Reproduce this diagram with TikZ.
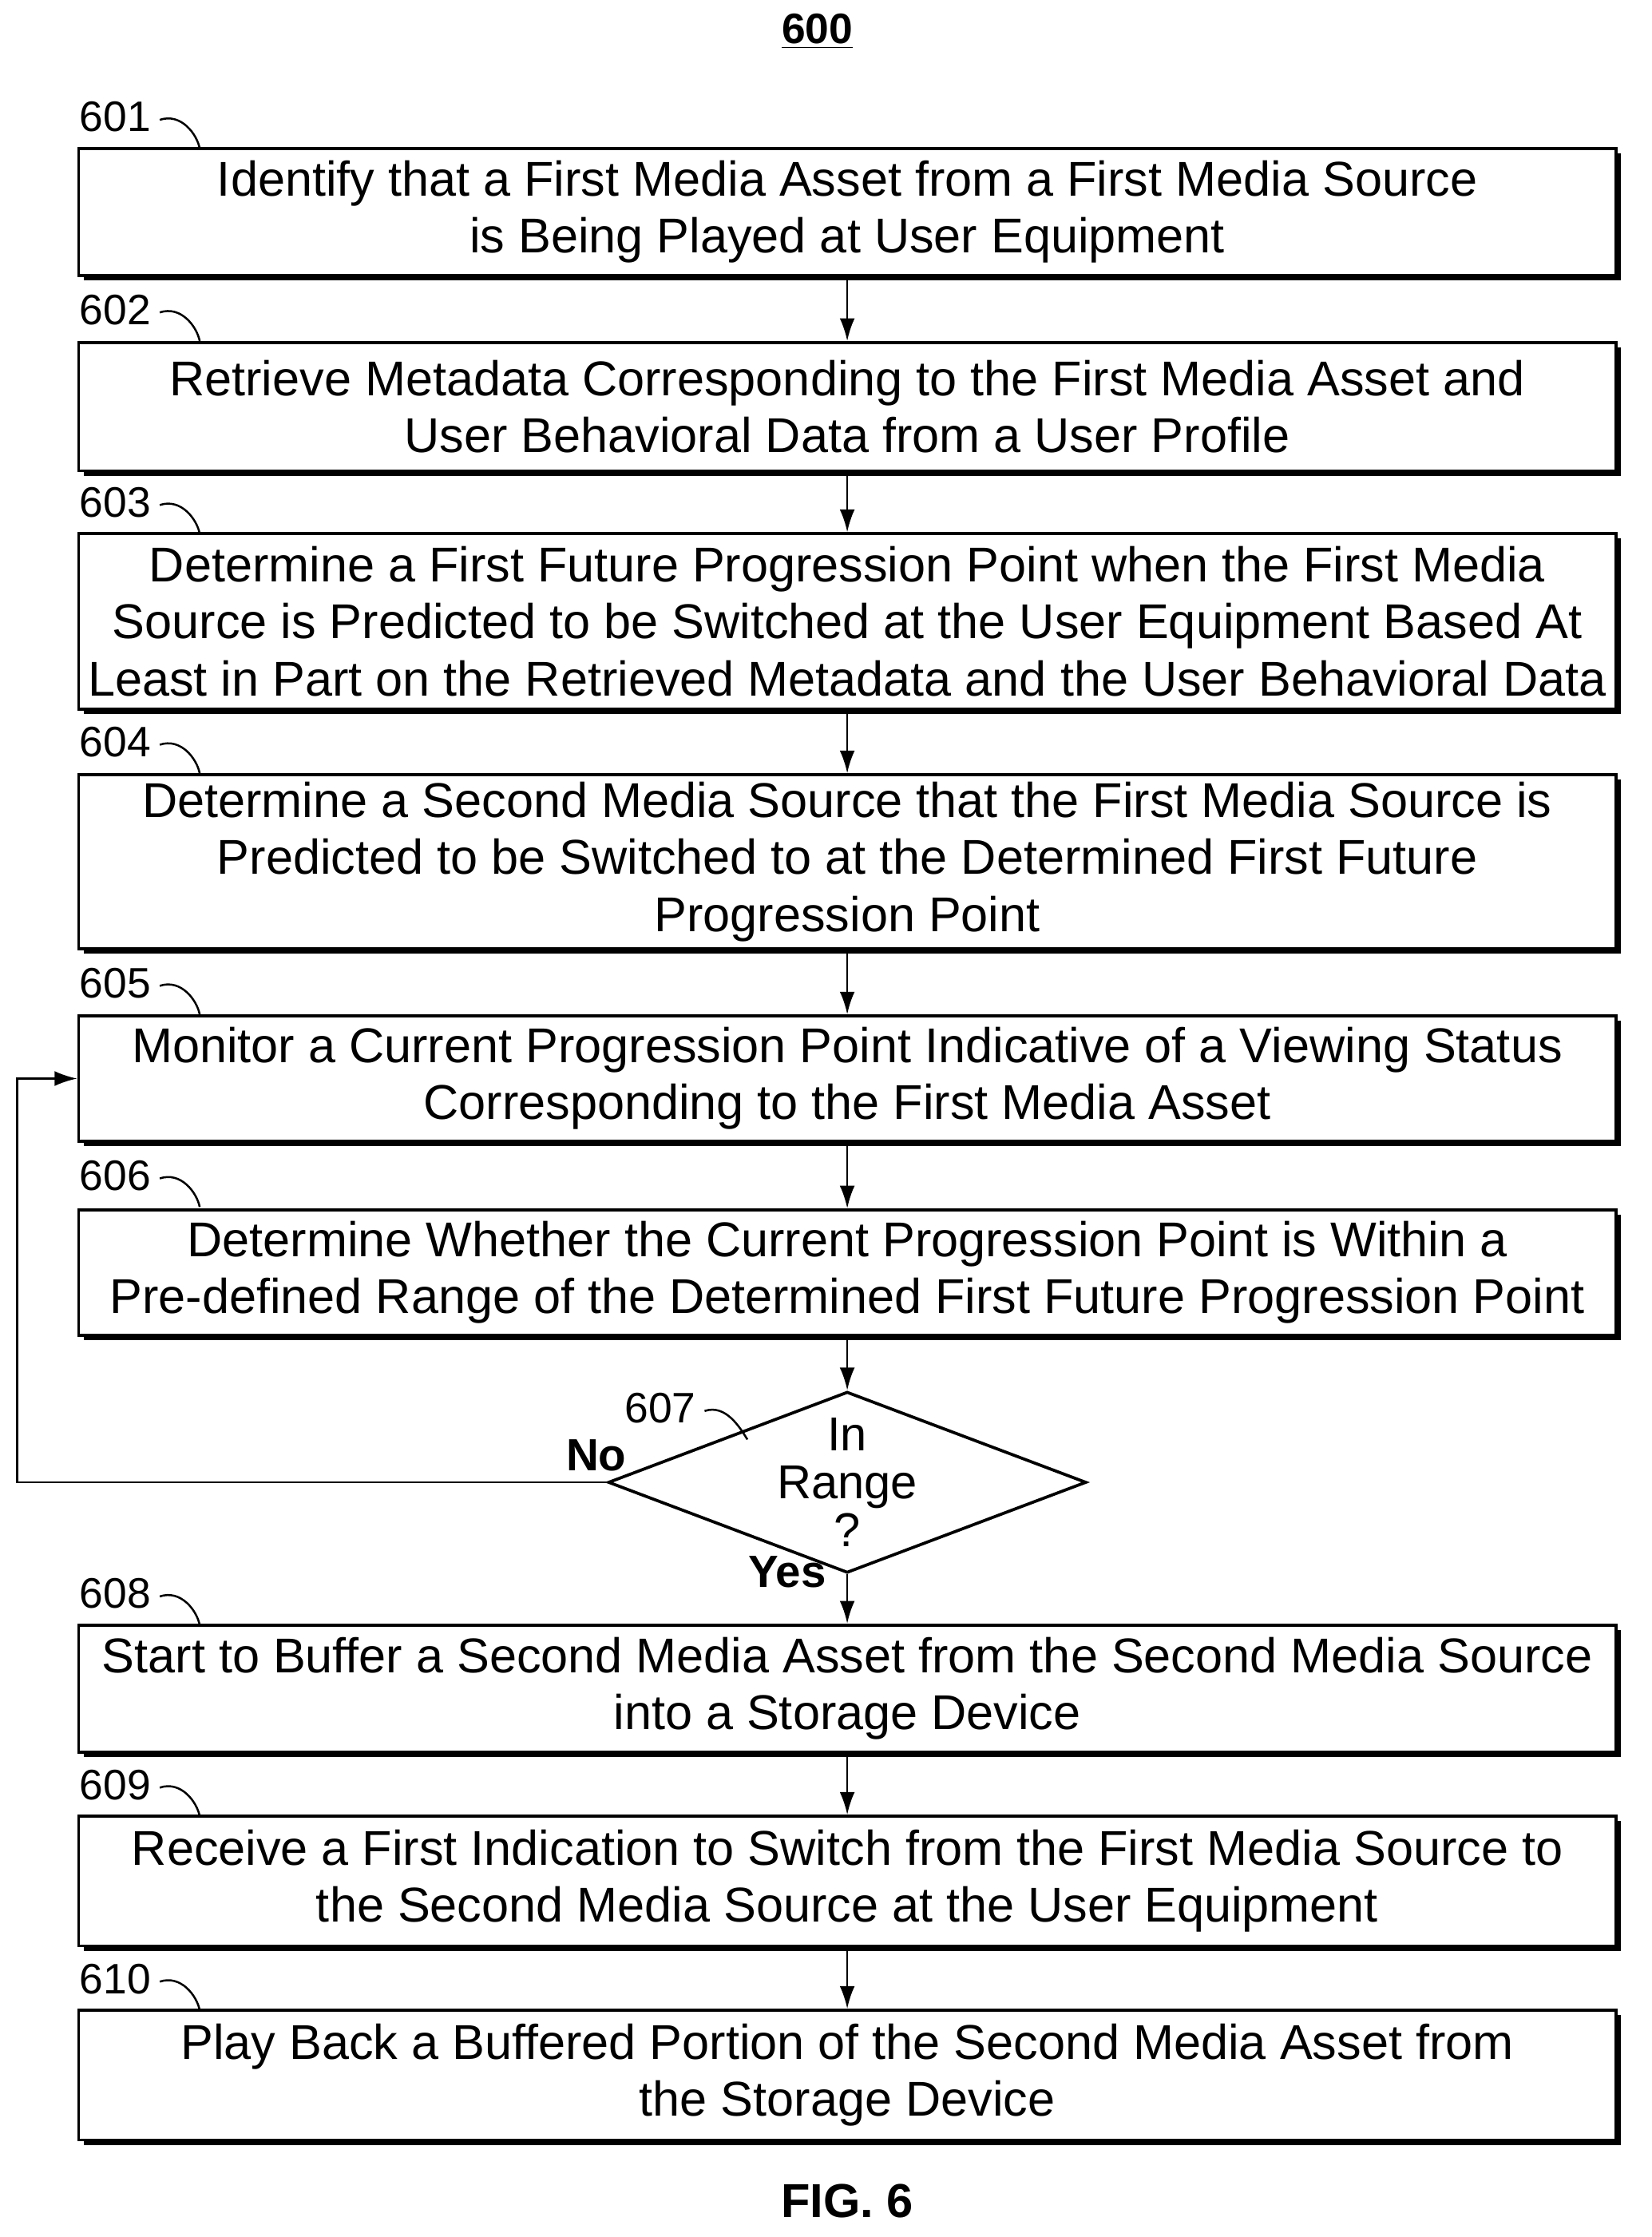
\documentclass[tikz,border=0pt]{standalone}
\usepackage{fontspec}
\setmainfont{Liberation Sans}
\usetikzlibrary{shapes.geometric,arrows.meta,shadows}

\tikzset{
  stepbox/.style={draw,very thick,fill=white,minimum width=21.56cm,align=center,
    inner sep=0pt,font=\fontsize{19.5}{22.7}\selectfont,
    drop shadow={shadow xshift=0.07cm,shadow yshift=-0.07cm,opacity=1,fill=black}},
  flow/.style={thick,-{Latex[length=9pt,width=6pt]}},
  numlabel/.style={font=\fontsize{17}{20}\selectfont,anchor=east}
}

\begin{document}
\begin{tikzpicture}[x=0.02cm,y=-0.02cm]
\useasboundingbox (0,0) rectangle (1158,1568);
\node[font=\bfseries\fontsize{17}{20}\selectfont] (title) at (573,22) {\underline{600}};

%% boxes
\node[stepbox,minimum height=1.78cm] (s601) at (594,148.5) {Identify that a First Media Asset from a First Media Source\\is Being Played at User Equipment};
\node[stepbox,minimum height=1.8cm] (s602) at (594,285) {Retrieve Metadata Corresponding to the First Media Asset and\\User Behavioral Data from a User Profile};
\node[stepbox,minimum height=2.46cm] (s603) at (594,435.5) {Determine a First Future Progression Point when the First Media\\Source is Predicted to be Switched at the User Equipment Based At\\Least in Part on the Retrieved Metadata and the User Behavioral Data};
\node[stepbox,minimum height=2.44cm] (s604) at (594,604) {Determine a Second Media Source that the First Media Source is\\Predicted to be Switched to at the Determined First Future\\Progression Point};
\node[stepbox,minimum height=1.76cm] (s605) at (594,756) {Monitor a Current Progression Point Indicative of a Viewing Status\\Corresponding to the First Media Asset};
\node[stepbox,minimum height=1.76cm] (s606) at (594,892) {Determine Whether the Current Progression Point is Within a\\Pre-defined Range of the Determined First Future Progression Point};
\node[draw,very thick,diamond,aspect=2.64,minimum width=5.2cm,minimum height=2.2cm,inner sep=0pt,
      align=center,font=\fontsize{19}{19}\selectfont] (s607) at (594,1039) {In\\Range\\?};
\node[stepbox,minimum height=1.78cm] (s608) at (594,1183.5) {Start to Buffer a Second Media Asset from the Second Media Source\\into a Storage Device};
\node[stepbox,minimum height=1.82cm] (s609) at (594,1318.5) {Receive a First Indication to Switch from the First Media Source to\\the Second Media Source at the User Equipment};
\node[stepbox,minimum height=1.82cm] (s610) at (594,1454.5) {Play Back a Buffered Portion of the Second Media Asset from\\the Storage Device};

%% step numbers
\foreach \n/\y in {601/82,602/217,603/352,604/520,605/689,606/824,608/1117,609/1251,610/1387}{
  \node[numlabel] (l\n) at (112,\y) {\n};
  \draw[thick] (l\n.east) ++(0,2) .. controls ++(15,-5) and ++(-2,-10) .. ++(28,20);
}
\node[numlabel] (l607) at (494,987) {607};
\draw[thick] (l607.east) ++(0,2) .. controls ++(15,-5) and ++(-5,-8) .. ++(30,20);

%% connectors
\foreach \a/\b in {s601/s602,s602/s603,s603/s604,s604/s605,s605/s606,s606/s607,s607/s608,s608/s609,s609/s610}
  \draw[flow] (\a) -- (\b);
\coordinate (loopb) at (12,1039);
\coordinate (loopt) at (12,756);
\draw[flow] (s607.west) -- (loopb) -- (loopt) -- (s605.west);
\node[font=\bfseries\fontsize{18}{20}\selectfont] (no) at (418,1020) {No};
\node[font=\bfseries\fontsize{18}{20}\selectfont] (yes) at (552,1102) {Yes};

\node[font=\bfseries\fontsize{19}{20}\selectfont] (fig) at (594,1543) {FIG. 6};
\end{tikzpicture}
\end{document}
